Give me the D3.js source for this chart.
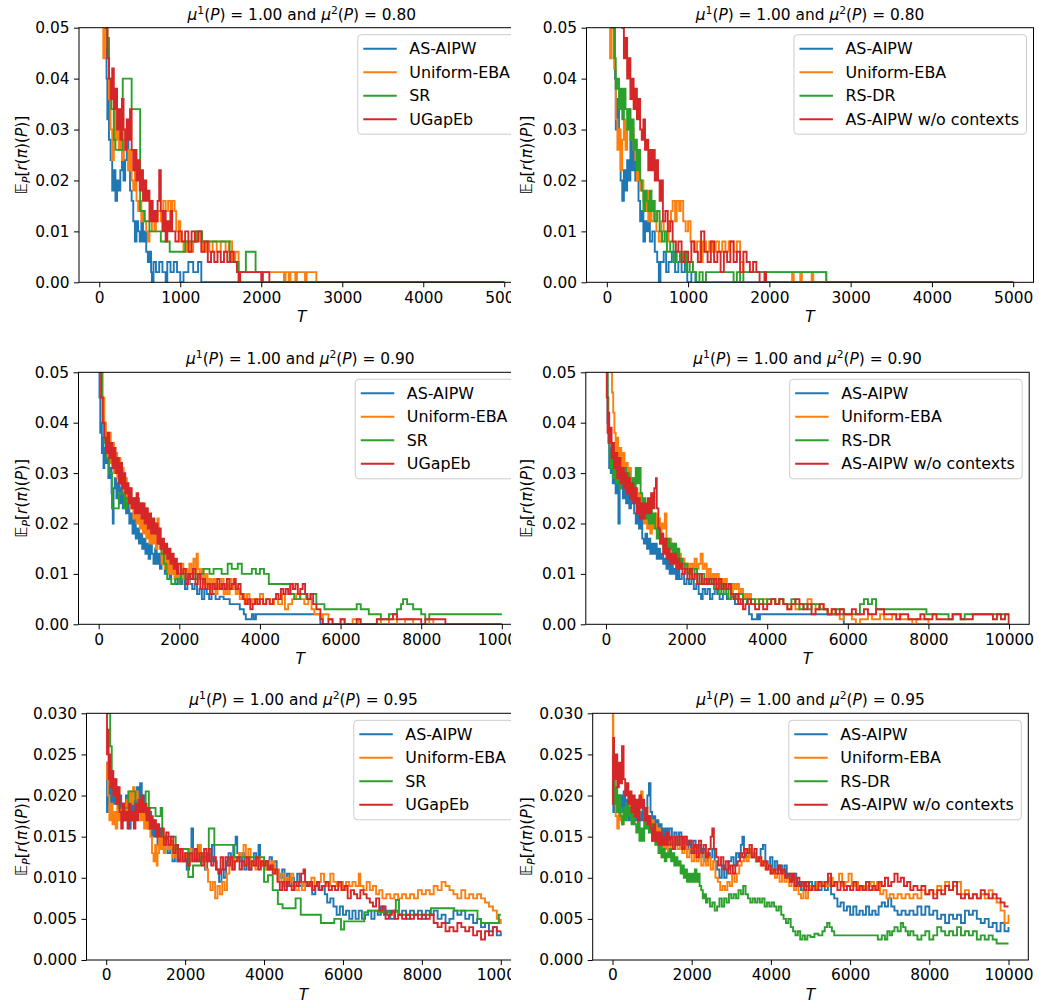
<!DOCTYPE html>
<html>
<head>
<meta charset="utf-8">
<script src="https://cdn.jsdelivr.net/npm/d3@7"></script>
<style>
  body { margin: 0; background: #fff; }
  svg { display: block; }
  text { font-family: "DejaVu Sans", sans-serif; fill: #000; }
</style>
</head>
<body>
<div id="chart"></div>
<script>
// ---- labels / ticks ----
const colors = ["#1f77b4", "#ff7f0e", "#2ca02c", "#d62728"];
const labelsLeft = ["AS-AIPW", "Uniform-EBA", "SR", "UGapEb"];
const labelsRight = ["AS-AIPW", "Uniform-EBA", "RS-DR", "AS-AIPW w/o contexts"];
const mu2Values = ["0.80", "0.90", "0.95"];
const xTicks5k = [0, 1000, 2000, 3000, 4000, 5000];
const xTicks10k = [0, 2000, 4000, 6000, 8000, 10000];
const yTicks05 = [0, 0.01, 0.02, 0.03, 0.04, 0.05];
const yTicks03 = [0, 0.005, 0.01, 0.015, 0.02, 0.025, 0.03];

// ---- row 1 (mu2 = 0.80), T up to 5000, [T, value] step points ----
const r1L_asAipw = [[0,.06],[90,.04],[100,.032],[110,.036],[120,.028],[140,.024],[160,.018],[180,.022],[200,.016],[220,.02],[240,.018],[260,.022],[280,.026],[300,.02],[320,.024],[340,.028],[360,.022],[380,.018],[400,.016],[420,.012],[440,.008],[460,.012],[480,.01],[500,.008],[520,.012],[540,.008],[560,.01],[580,.006],[600,.004],[620,.006],[640,.002],[650,0],[670,.004],[700,.002],[740,.004],[780,.002],[820,0],[840,.004],[880,.002],[920,.004],[960,.002],[1000,0],[1040,.002],[1100,.004],[1160,.002],[1220,.004],[1260,0],[5000,0]];
const r1L_uniform = [[0,.06],[50,.044],[70,.05],[100,.046],[120,.036],[140,.03],[160,.024],[180,.034],[200,.028],[220,.032],[240,.026],[260,.03],[280,.024],[300,.028],[320,.03],[340,.026],[360,.022],[380,.026],[400,.02],[420,.018],[440,.022],[460,.016],[480,.014],[500,.016],[520,.012],[540,.014],[560,.012],[580,.01],[600,.008],[620,.01],[650,.012],[680,.01],[700,.012],[720,.014],[760,.012],[790,.016],[820,.014],[850,.016],[880,.012],[900,.016],[930,.014],[950,.01],[980,.012],[1000,.008],[1040,.006],[1080,.008],[1120,.006],[1160,.008],[1200,.01],[1240,.008],[1280,.006],[1320,.008],[1360,.006],[1400,.008],[1450,.006],[1500,.008],[1560,.006],[1600,.008],[1640,.004],[1680,.006],[1720,.002],[2280,0],[2300,.002],[2340,0],[2360,.002],[2420,0],[2440,.002],[2540,0],[2560,.002],[2680,0],[5000,0]];
const r1L_sr = [[0,.06],[100,.048],[120,.04],[150,.034],[180,.028],[200,.026],[290,.04],[400,.034],[505,.014],[560,.012],[620,.01],[760,.008],[870,.006],[1060,.008],[1190,.01],[1270,.008],[1610,.004],[1720,.002],[1810,.006],[1930,.002],[2010,0],[5000,0]];
const r1L_ugapeb = [[0,.06],[80,.05],[100,.044],[120,.04],[140,.036],[160,.042],[180,.034],[200,.038],[220,.03],[240,.034],[260,.028],[280,.036],[300,.03],[320,.026],[340,.032],[360,.028],[380,.034],[400,.026],[420,.022],[440,.026],[460,.02],[480,.024],[500,.018],[520,.022],[540,.016],[560,.02],[580,.016],[600,.018],[620,.012],[640,.016],[660,.012],[680,.014],[700,.012],[720,.016],[740,.022],[760,.014],[780,.01],[800,.014],[820,.008],[840,.012],[860,.01],[880,.014],[900,.01],[940,.008],[980,.01],[1020,.008],[1060,.01],[1100,.006],[1140,.01],[1180,.008],[1220,.01],[1260,.006],[1300,.008],[1340,.004],[1380,.006],[1420,.004],[1460,.006],[1500,.004],[1540,.006],[1580,.004],[1620,.006],[1660,.004],[1700,.002],[1720,0],[1740,.002],[2000,0],[2020,.002],[2100,0],[5000,0]];

const r1R_asAipw = [[0,.06],[80,.05],[100,.04],[110,.03],[130,.036],[150,.028],[170,.02],[190,.016],[210,.022],[230,.018],[250,.024],[270,.02],[290,.028],[310,.022],[330,.026],[350,.02],[370,.024],[390,.016],[410,.012],[430,.014],[450,.008],[470,.012],[490,.01],[510,.012],[530,.008],[560,.01],[590,.006],[620,.004],[640,0],[660,.004],[700,.006],[730,.002],[760,.004],[800,.006],[840,.002],[880,.004],[920,.002],[960,.004],[990,0],[1040,.002],[1090,0],[5000,0]];
const r1R_uniform = [[0,.06],[40,.044],[60,.05],[90,.042],[110,.032],[130,.026],[150,.03],[170,.022],[190,.028],[210,.032],[230,.026],[250,.03],[270,.034],[290,.028],[310,.03],[330,.026],[350,.024],[370,.02],[390,.022],[410,.018],[430,.02],[450,.016],[470,.014],[490,.018],[510,.012],[530,.016],[550,.012],[580,.014],[610,.01],[640,.008],[670,.012],[700,.01],[730,.008],[760,.012],[790,.014],[810,.016],[840,.012],[860,.016],[890,.014],[910,.016],[940,.012],[970,.01],[1000,.012],[1030,.008],[1070,.006],[1110,.008],[1150,.004],[1180,.008],[1220,.006],[1260,.008],[1300,.006],[1340,.008],[1380,.006],[1420,.008],[1460,.006],[1500,.008],[1560,.006],[1600,.008],[1640,.004],[1680,.002],[2280,0],[2300,.002],[2380,0],[2400,.002],[2520,0],[2540,.002],[2700,0],[5000,0]];
const r1R_rsdr = [[0,.06],[70,.05],[90,.044],[110,.038],[130,.04],[150,.034],[170,.038],[190,.032],[210,.038],[230,.034],[250,.03],[270,.034],[290,.028],[310,.032],[330,.026],[350,.028],[370,.022],[390,.026],[410,.02],[430,.018],[450,.014],[470,.018],[490,.016],[510,.014],[530,.018],[550,.014],[570,.016],[590,.012],[620,.014],[650,.01],[680,.008],[710,.01],[740,.006],[780,.008],[820,.004],[860,.006],[900,.004],[940,.006],[980,.002],[1020,.004],[1060,.002],[1100,0],[1140,.002],[1180,0],[1220,.002],[1560,0],[1600,.002],[1640,0],[1680,.002],[2700,0],[5000,0]];
const r1R_noCtx = [[0,.06],[190,.05],[210,.044],[230,.048],[250,.04],[270,.044],[290,.036],[310,.04],[330,.034],[350,.038],[370,.032],[390,.036],[410,.03],[430,.028],[450,.032],[470,.026],[490,.028],[510,.022],[530,.026],[550,.022],[570,.026],[590,.02],[610,.024],[630,.02],[650,.016],[670,.02],[690,.012],[720,.014],[750,.01],[780,.012],[810,.008],[850,.006],[880,.008],[920,.004],[960,.006],[1000,.004],[1040,.008],[1080,.006],[1120,.004],[1160,.01],[1200,.006],[1240,.004],[1280,.008],[1320,.004],[1360,.006],[1400,.002],[1440,.006],[1480,.004],[1520,.008],[1560,.004],[1600,.006],[1640,.002],[1680,.006],[1720,.004],[1760,.002],[1800,.004],[1840,.002],[1880,0],[1940,.002],[1960,0],[5000,0]];

// ---- row 2 (mu2 = 0.90), T up to 10000 ----
const r2L_asAipw = [[0,.06],[20,.045],[40,.038],[60,.04],[80,.034],[100,.037],[120,.031],[140,.035],[160,.032],[200,.033],[240,.029],[280,.031],[320,.026],[350,.02],[370,.027],[400,.029],[440,.025],[480,.028],[520,.024],[560,.027],[600,.023],[640,.026],[680,.022],[720,.024],[760,.02],[800,.022],[840,.018],[880,.021],[920,.017],[960,.019],[1000,.016],[1040,.018],[1080,.015],[1120,.017],[1160,.014],[1200,.016],[1240,.013],[1280,.016],[1320,.014],[1360,.012],[1400,.015],[1440,.012],[1480,.014],[1520,.011],[1560,.013],[1600,.012],[1640,.01],[1680,.013],[1720,.011],[1760,.009],[1800,.011],[1840,.01],[1900,.008],[1960,.01],[2020,.008],[2080,.009],[2140,.007],[2200,.009],[2260,.008],[2320,.007],[2380,.008],[2440,.006],[2500,.007],[2560,.005],[2620,.007],[2680,.006],[2740,.005],[2800,.006],[2900,.005],[3000,.0055],[3100,.005],[3250,.004],[3500,.003],[3600,.002],[3650,.001],[3800,.002],[3850,.001],[3900,.002],[5500,0],[10000,0]];
const r2L_uniform = [[0,.06],[60,.05],[100,.045],[140,.04],[180,.036],[220,.034],[260,.038],[300,.032],[340,.036],[380,.03],[420,.034],[460,.029],[500,.033],[540,.028],[580,.031],[620,.026],[660,.029],[700,.025],[740,.027],[780,.023],[820,.025],[860,.021],[900,.024],[940,.02],[980,.022],[1020,.019],[1060,.021],[1100,.018],[1140,.02],[1180,.017],[1220,.02],[1260,.016],[1300,.019],[1340,.016],[1380,.018],[1420,.015],[1460,.021],[1490,.017],[1520,.015],[1560,.012],[1600,.015],[1640,.011],[1680,.014],[1720,.01],[1760,.013],[1800,.01],[1840,.012],[1880,.009],[1920,.011],[1960,.009],[2000,.01],[2050,.012],[2100,.009],[2150,.011],[2200,.008],[2250,.012],[2300,.01],[2350,.013],[2400,.01],[2430,.014],[2460,.011],[2500,.009],[2550,.011],[2600,.008],[2650,.01],[2700,.007],[2750,.009],[2800,.007],[2850,.009],[2900,.006],[2950,.008],[3000,.007],[3050,.009],[3100,.006],[3150,.008],[3200,.006],[3250,.009],[3300,.007],[3350,.008],[3400,.006],[3450,.007],[3500,.005],[3560,.006],[3620,.004],[3680,.006],[3740,.004],[3800,.005],[3860,.004],[3920,.005],[4000,.006],[4080,.004],[4150,.005],[4250,.004],[4350,.005],[4450,.004],[4550,.006],[4620,.003],[4700,.004],[4800,.005],[4900,.006],[5000,.005],[5100,.004],[5200,.005],[5280,.003],[5350,.002],[5500,.001],[5560,.002],[5700,.001],[5800,0],[6000,.001],[6100,0],[6300,.001],[6450,0],[6900,.001],[7000,0],[7200,.001],[7400,0],[7600,.001],[7800,0],[8200,.001],[8300,0],[10000,0]];
const r2L_sr = [[0,.06],[60,.05],[80,.045],[100,.04],[140,.036],[200,.033],[260,.03],[330,.023],[500,.026],[640,.023],[700,.025],[800,.024],[900,.025],[1000,.024],[1100,.023],[1200,.021],[1300,.02],[1400,.018],[1480,.016],[1560,.014],[1620,.012],[1680,.01],[1700,.009],[1800,.008],[1900,.009],[2000,.008],[2050,.01],[2150,.009],[2250,.01],[2350,.009],[2450,.01],[2600,.011],[2750,.01],[2850,.011],[3050,.01],[3200,.012],[3300,.011],[3450,.012],[3550,.01],[3800,.011],[3900,.01],[4000,.011],[4100,.01],[4220,.008],[4750,.006],[4850,.005],[5000,.006],[5150,.005],[5250,.006],[5400,.004],[5600,.003],[6400,.004],[6500,.003],[6700,.002],[7000,.001],[7200,.002],[7400,.003],[7500,.004],[7550,.005],[7650,.004],[7800,.003],[8000,.002],[8100,.001],[8200,.002],[10000,.002]];
const r2L_ugapeb = [[0,.06],[30,.05],[60,.045],[100,.04],[140,.037],[180,.034],[220,.038],[260,.033],[300,.036],[340,.031],[380,.035],[420,.03],[460,.033],[500,.028],[540,.032],[580,.027],[620,.03],[660,.026],[700,.028],[740,.024],[780,.027],[820,.023],[860,.025],[900,.022],[940,.026],[980,.022],[1020,.024],[1060,.021],[1100,.024],[1140,.02],[1180,.023],[1220,.019],[1260,.022],[1300,.018],[1340,.021],[1380,.018],[1420,.02],[1460,.016],[1500,.019],[1540,.015],[1580,.017],[1620,.014],[1660,.016],[1700,.013],[1740,.015],[1780,.012],[1820,.014],[1860,.011],[1900,.013],[1940,.01],[1980,.012],[2040,.01],[2100,.011],[2160,.008],[2220,.01],[2280,.009],[2340,.011],[2400,.008],[2460,.01],[2520,.007],[2580,.009],[2640,.007],[2700,.008],[2760,.006],[2820,.008],[2880,.007],[2940,.009],[3000,.007],[3060,.008],[3120,.007],[3180,.009],[3240,.007],[3300,.008],[3360,.009],[3400,.007],[3460,.008],[3520,.006],[3580,.005],[3640,.004],[3700,.005],[3760,.003],[3820,.004],[3880,.005],[3940,.004],[4000,.005],[4080,.004],[4160,.005],[4240,.004],[4320,.005],[4400,.006],[4460,.005],[4520,.007],[4580,.006],[4640,.007],[4700,.006],[4760,.008],[4820,.007],[4880,.008],[4940,.006],[5000,.007],[5060,.008],[5120,.006],[5180,.005],[5260,.006],[5320,.004],[5400,.003],[5500,.001],[5560,0],[5700,.001],[5800,0],[6000,.001],[6100,0],[6400,.001],[6500,0],[6900,.001],[7300,.002],[7400,.001],[8000,0],[8100,.001],[8600,0],[10000,0]];

const r2R_asAipw = [[0,.06],[20,.05],[40,.04],[60,.036],[80,.031],[100,.035],[120,.03],[140,.033],[170,.028],[200,.031],[240,.026],[280,.029],[310,.02],[340,.027],[380,.029],[420,.025],[460,.028],[500,.024],[540,.027],[580,.023],[620,.026],[660,.024],[700,.022],[740,.02],[780,.023],[820,.019],[860,.021],[900,.017],[940,.016],[980,.018],[1020,.015],[1060,.017],[1100,.014],[1140,.016],[1180,.014],[1220,.016],[1260,.013],[1300,.015],[1340,.013],[1380,.014],[1420,.012],[1460,.013],[1500,.011],[1540,.013],[1580,.01],[1620,.012],[1660,.01],[1700,.011],[1740,.009],[1780,.011],[1820,.009],[1880,.01],[1940,.008],[2000,.009],[2060,.008],[2120,.009],[2180,.007],[2240,.008],[2300,.006],[2360,.005],[2400,.007],[2460,.006],[2520,.007],[2580,.005],[2640,.006],[2700,.007],[2760,.006],[2820,.005],[2900,.006],[3000,.005],[3100,.0055],[3200,.004],[3400,.005],[3500,.004],[3550,.002],[3620,.001],[3750,.002],[3780,.001],[3820,.002],[5900,0],[10000,0]];
const r2R_uniform = [[0,.06],[120,.05],[150,.046],[180,.042],[210,.038],[240,.034],[270,.037],[300,.032],[340,.035],[380,.031],[420,.034],[460,.029],[500,.032],[540,.028],[580,.031],[620,.027],[660,.029],[700,.025],[740,.027],[780,.023],[820,.026],[860,.022],[900,.024],[940,.02],[980,.023],[1020,.019],[1060,.021],[1100,.018],[1140,.021],[1180,.019],[1220,.022],[1260,.019],[1300,.021],[1340,.018],[1380,.02],[1420,.019],[1460,.022],[1500,.017],[1540,.015],[1580,.017],[1620,.014],[1660,.016],[1700,.014],[1740,.015],[1780,.013],[1820,.014],[1860,.012],[1900,.013],[1950,.011],[2000,.012],[2050,.01],[2100,.012],[2150,.011],[2200,.013],[2250,.011],[2300,.012],[2350,.014],[2400,.011],[2450,.012],[2500,.009],[2550,.011],[2600,.009],[2650,.01],[2700,.008],[2750,.01],[2800,.008],[2850,.009],[2900,.007],[2950,.009],[3000,.007],[3050,.008],[3100,.006],[3150,.008],[3200,.007],[3250,.008],[3300,.006],[3350,.007],[3400,.005],[3450,.006],[3500,.005],[3550,.006],[3600,.004],[3700,.005],[3800,.004],[3900,.005],[4000,.004],[4100,.005],[4200,.004],[4300,.005],[4400,.004],[4500,.003],[4600,.004],[4700,.003],[4800,.004],[5000,.005],[5100,.004],[5200,.003],[5300,.004],[5400,.003],[5500,.002],[5600,.003],[5700,.002],[5800,.001],[5900,.002],[6100,.001],[6200,0],[6300,.001],[6500,.002],[6600,.001],[6800,.002],[6900,.001],[7100,.002],[7300,.001],[7600,0],[7700,.001],[8000,0],[10000,0]];
const r2R_rsdr = [[0,.06],[40,.045],[60,.038],[90,.034],[120,.031],[150,.034],[180,.029],[220,.032],[260,.028],[300,.031],[340,.027],[380,.03],[420,.028],[460,.031],[500,.027],[540,.03],[580,.028],[620,.026],[660,.029],[700,.027],[740,.031],[780,.028],[820,.031],[860,.026],[900,.023],[940,.025],[980,.021],[1020,.024],[1060,.02],[1100,.023],[1140,.02],[1180,.022],[1220,.019],[1260,.017],[1300,.019],[1340,.016],[1380,.018],[1420,.015],[1460,.017],[1500,.015],[1540,.017],[1580,.015],[1620,.016],[1660,.014],[1700,.016],[1740,.013],[1780,.015],[1820,.012],[1860,.013],[1900,.011],[1960,.012],[2020,.01],[2080,.011],[2140,.009],[2200,.011],[2260,.01],[2320,.008],[2380,.01],[2440,.008],[2500,.009],[2560,.008],[2620,.009],[2680,.007],[2740,.008],[2800,.006],[2860,.008],[2920,.006],[2980,.007],[3040,.005],[3100,.006],[3200,.005],[3300,.006],[3400,.005],[3500,.004],[3600,.005],[3700,.004],[3800,.005],[3900,.004],[4000,.005],[4200,.004],[4300,.005],[4400,.004],[4600,.005],[4700,.004],[4800,.003],[4900,.004],[5000,.003],[5100,.004],[5300,.003],[5500,.002],[5700,.003],[5900,.002],[6300,.004],[6400,.005],[6500,.004],[6600,.005],[6700,.003],[7950,.002],[8500,.001],[8600,.002],[8800,.001],[8900,.002],[10000,.002]];
const r2R_noCtx = [[0,.06],[20,.045],[40,.038],[60,.042],[80,.036],[110,.039],[140,.033],[170,.036],[200,.031],[240,.034],[280,.029],[320,.033],[360,.028],[400,.031],[440,.027],[480,.03],[520,.026],[560,.029],[600,.025],[640,.028],[680,.024],[720,.027],[760,.022],[800,.025],[840,.021],[880,.024],[920,.021],[960,.024],[1000,.022],[1040,.025],[1080,.022],[1120,.026],[1160,.023],[1200,.027],[1240,.029],[1260,.023],[1300,.019],[1340,.016],[1380,.018],[1420,.014],[1460,.017],[1500,.013],[1540,.015],[1580,.012],[1620,.014],[1660,.012],[1700,.014],[1740,.011],[1780,.013],[1820,.011],[1860,.012],[1900,.01],[1960,.011],[2020,.009],[2080,.011],[2140,.009],[2200,.01],[2260,.008],[2320,.01],[2380,.008],[2440,.009],[2500,.008],[2560,.009],[2620,.008],[2680,.009],[2740,.007],[2800,.009],[2860,.007],[2920,.008],[2980,.007],[3040,.008],[3100,.006],[3160,.005],[3220,.006],[3280,.004],[3340,.005],[3400,.003],[3460,.004],[3520,.005],[3600,.004],[3700,.003],[3800,.004],[3900,.003],[4000,.004],[4100,.005],[4200,.004],[4300,.005],[4400,.004],[4500,.003],[4600,.004],[4700,.005],[4800,.004],[4900,.003],[5000,.004],[5100,.002],[5200,.003],[5300,.004],[5400,.003],[5500,.002],[5600,.003],[5700,.002],[5800,.003],[5900,.002],[6100,.003],[6200,.002],[6400,.003],[6500,.002],[6700,.003],[6900,.002],[7200,.001],[7300,.002],[7500,.001],[7800,.002],[7900,.001],[8100,.002],[8200,.001],[8600,.002],[8800,.001],[9100,.002],[9600,.001],[9700,.002],[9800,.001],[9900,.002],[9990,0],[10000,0]];

// ---- row 3 (mu2 = 0.95), T up to 10000 ----
const r3L_asAipw = [[0,.024],[20,.018],[40,.022],[60,.019],[100,.021],[140,.019],[180,.022],[220,.019],[260,.021],[300,.018],[340,.02],[380,.017],[420,.019],[460,.017],[500,.02],[540,.018],[580,.016],[620,.019],[660,.017],[700,.02],[740,.018],[780,.021],[820,.019],[860,.0215],[900,.019],[940,.02],[980,.017],[1020,.018],[1060,.016],[1100,.018],[1140,.015],[1180,.017],[1220,.015],[1260,.016],[1300,.014],[1340,.016],[1380,.014],[1420,.015],[1460,.013],[1500,.015],[1560,.013],[1620,.014],[1680,.012],[1740,.014],[1800,.012],[1860,.013],[1920,.012],[1980,.0125],[2040,.011],[2100,.013],[2160,.016],[2200,.013],[2260,.012],[2320,.014],[2380,.012],[2440,.013],[2500,.011],[2560,.013],[2620,.012],[2680,.014],[2740,.012],[2800,.011],[2860,.0095],[2920,.011],[2980,.01],[3040,.012],[3100,.013],[3160,.012],[3220,.014],[3280,.015],[3320,.013],[3380,.012],[3440,.013],[3500,.011],[3560,.0125],[3620,.011],[3680,.012],[3740,.013],[3800,.0115],[3860,.014],[3900,.012],[3960,.0115],[4020,.012],[4080,.011],[4140,.0125],[4200,.011],[4260,.012],[4320,.0105],[4400,.01],[4460,.011],[4520,.009],[4580,.0105],[4640,.009],[4700,.01],[4760,.0095],[4840,.0105],[4900,.009],[4980,.0095],[5060,.009],[5140,.0095],[5220,.008],[5300,.009],[5380,.0085],[5460,.009],[5540,.008],[5600,.007],[5680,.0075],[5760,.0065],[5840,.0055],[5920,.0065],[6000,.0055],[6080,.006],[6160,.005],[6240,.006],[6320,.005],[6400,.006],[6480,.005],[6560,.0055],[6640,.006],[6720,.005],[6800,.006],[6880,.0055],[6960,.0065],[7040,.0055],[7120,.006],[7200,.005],[7300,.006],[7400,.0055],[7500,.006],[7600,.005],[7700,.006],[7800,.0055],[7900,.006],[8000,.005],[8100,.006],[8200,.0055],[8300,.006],[8400,.005],[8500,.0055],[8600,.0045],[8700,.005],[8800,.006],[8900,.0055],[9000,.006],[9100,.005],[9200,.0055],[9300,.0045],[9400,.005],[9500,.004],[9600,.0045],[9700,.0035],[9800,.004],[9900,.003],[10000,.0035]];
const r3L_uniform = [[0,.024],[20,.022],[40,.02],[80,.017],[120,.019],[160,.0165],[200,.018],[240,.016],[280,.019],[320,.017],[360,.0185],[400,.017],[440,.019],[480,.0175],[520,.0195],[560,.018],[600,.0205],[640,.019],[680,.021],[720,.0195],[760,.0205],[800,.018],[840,.0195],[880,.017],[920,.018],[960,.016],[1000,.0175],[1040,.016],[1080,.017],[1120,.015],[1160,.013],[1200,.012],[1240,.014],[1280,.0115],[1300,.013],[1340,.015],[1380,.0135],[1420,.015],[1460,.013],[1500,.0145],[1560,.0135],[1620,.0145],[1680,.0125],[1740,.014],[1800,.0125],[1860,.0135],[1920,.012],[1980,.013],[2040,.0125],[2100,.0135],[2160,.012],[2220,.0135],[2280,.0125],[2340,.014],[2400,.012],[2460,.013],[2520,.011],[2580,.0095],[2640,.0085],[2700,.0095],[2760,.0075],[2820,.009],[2880,.008],[2940,.0095],[3000,.0085],[3060,.0105],[3120,.012],[3180,.011],[3240,.0125],[3300,.012],[3360,.013],[3420,.0125],[3480,.014],[3540,.0125],[3600,.0135],[3660,.0115],[3720,.012],[3780,.011],[3840,.0125],[3900,.0115],[3960,.012],[4020,.011],[4080,.012],[4140,.0115],[4200,.012],[4260,.0105],[4320,.011],[4380,.0095],[4440,.0105],[4500,.009],[4560,.01],[4620,.0095],[4680,.0105],[4740,.009],[4800,.0085],[4880,.0095],[4960,.0085],[5040,.0095],[5120,.009],[5200,.01],[5280,.009],[5360,.0095],[5440,.0105],[5520,.0095],[5600,.009],[5680,.0105],[5760,.0095],[5840,.009],[5920,.0095],[6000,.0085],[6080,.0095],[6160,.009],[6240,.0095],[6320,.009],[6400,.0105],[6440,.009],[6520,.0085],[6600,.0095],[6680,.0085],[6760,.009],[6840,.008],[6920,.0085],[7000,.0075],[7100,.008],[7200,.0075],[7300,.008],[7400,.0075],[7500,.008],[7600,.0075],[7700,.008],[7800,.0075],[7900,.0085],[8000,.008],[8100,.0085],[8200,.008],[8300,.009],[8400,.0085],[8500,.0095],[8600,.009],[8700,.0085],[8800,.008],[8900,.0075],[9000,.0085],[9100,.0075],[9200,.008],[9300,.0075],[9400,.008],[9500,.0075],[9600,.007],[9700,.0065],[9800,.006],[9900,.005],[9960,.0045],[10000,.005]];
const r3L_sr = [[0,.031],[60,.03],[100,.026],[140,.022],[200,.02],[260,.019],[320,.0185],[560,.0205],[740,.019],[1000,.0205],[1080,.0185],[1250,.0175],[1380,.0185],[1420,.015],[1760,.0135],[2080,.0101],[2200,.0115],[2400,.0125],[2600,.016],[2740,.014],[3250,.0125],[4000,.0095],[4100,.0103],[4220,.0085],[4350,.0068],[4470,.0063],[4800,.0075],[4930,.0055],[5440,.0045],[5780,.005],[5950,.0037],[6030,.0047],[6540,.0058],[6630,.006],[6920,.0058],[7340,.0073],[7420,.0055],[8230,.0063],[8820,.006],[9410,.005],[9500,.0045],[9950,.0055],[10000,.0055]];
const r3L_ugapeb = [[0,.03],[20,.025],[40,.028],[60,.022],[80,.025],[100,.021],[140,.023],[180,.02],[220,.022],[260,.019],[300,.021],[340,.018],[380,.016],[420,.019],[460,.017],[500,.018],[540,.016],[580,.019],[620,.017],[660,.018],[700,.016],[740,.019],[780,.017],[820,.0195],[860,.018],[900,.02],[940,.018],[980,.019],[1020,.017],[1060,.0185],[1100,.016],[1140,.0175],[1180,.016],[1220,.017],[1260,.015],[1300,.0165],[1340,.015],[1400,.016],[1460,.014],[1520,.0155],[1580,.014],[1640,.015],[1700,.013],[1760,.014],[1820,.012],[1880,.0135],[1940,.012],[2000,.013],[2060,.0115],[2120,.013],[2180,.012],[2240,.0135],[2300,.012],[2360,.013],[2420,.0115],[2480,.0135],[2540,.012],[2600,.0135],[2660,.0115],[2720,.0125],[2780,.011],[2840,.0105],[2900,.0125],[2960,.011],[3020,.0125],[3080,.0115],[3140,.0125],[3200,.011],[3260,.012],[3320,.0125],[3380,.011],[3440,.012],[3500,.0115],[3560,.0125],[3620,.011],[3680,.012],[3740,.0115],[3800,.0125],[3860,.011],[3920,.012],[3980,.0115],[4040,.012],[4100,.011],[4160,.0115],[4220,.0105],[4280,.011],[4340,.0095],[4400,.0085],[4460,.0095],[4520,.0085],[4580,.0095],[4640,.009],[4700,.0085],[4760,.0095],[4820,.009],[4880,.0095],[4940,.0105],[5000,.011],[5040,.0095],[5100,.009],[5160,.0095],[5220,.0085],[5280,.009],[5340,.0095],[5400,.0085],[5480,.009],[5560,.0095],[5640,.0085],[5720,.009],[5800,.0085],[5880,.0095],[5960,.0085],[6040,.009],[6120,.0075],[6200,.0085],[6280,.008],[6360,.0075],[6440,.0085],[6520,.008],[6600,.0075],[6680,.007],[6760,.0065],[6840,.0075],[6920,.006],[7000,.0065],[7080,.005],[7160,.0055],[7240,.006],[7320,.005],[7400,.0055],[7500,.005],[7600,.0055],[7700,.005],[7800,.0055],[7900,.005],[8000,.0055],[8100,.005],[8200,.0055],[8300,.0045],[8400,.004],[8500,.0045],[8600,.0035],[8700,.004],[8800,.0035],[8900,.0045],[9000,.004],[9100,.0035],[9200,.004],[9300,.003],[9400,.0035],[9500,.0025],[9600,.0035],[9700,.003],[9800,.004],[9900,.0035],[10000,.0035]];

const r3R_asAipw = [[0,.024],[20,.018],[40,.021],[80,.018],[120,.02],[160,.0175],[200,.02],[240,.018],[280,.0205],[320,.018],[360,.0195],[400,.017],[440,.019],[480,.0175],[520,.0195],[560,.017],[600,.0185],[640,.016],[680,.018],[720,.017],[760,.019],[800,.0175],[840,.0185],[880,.02],[920,.0215],[960,.018],[1000,.0165],[1040,.0175],[1080,.0155],[1120,.017],[1160,.015],[1200,.0165],[1240,.0145],[1280,.016],[1320,.0145],[1360,.016],[1400,.0145],[1440,.016],[1500,.014],[1560,.0155],[1620,.014],[1680,.0155],[1740,.0135],[1800,.015],[1860,.0135],[1920,.0145],[1980,.013],[2040,.0145],[2100,.013],[2160,.014],[2220,.0125],[2280,.0135],[2340,.012],[2400,.013],[2460,.0125],[2520,.0135],[2580,.012],[2640,.011],[2700,.01],[2760,.0115],[2820,.01],[2880,.011],[2940,.012],[3000,.0125],[3060,.0115],[3120,.013],[3180,.0125],[3240,.014],[3280,.015],[3320,.013],[3380,.0125],[3440,.0135],[3500,.0125],[3560,.013],[3620,.012],[3680,.0125],[3740,.0135],[3800,.014],[3860,.012],[3920,.0115],[3980,.0125],[4040,.011],[4100,.012],[4160,.011],[4220,.0115],[4280,.0105],[4340,.0115],[4400,.01],[4460,.0105],[4520,.0095],[4580,.0105],[4640,.009],[4700,.0095],[4760,.0085],[4820,.0095],[4880,.009],[4960,.0095],[5040,.009],[5120,.0095],[5200,.0085],[5280,.009],[5360,.0085],[5440,.0095],[5520,.008],[5600,.0075],[5680,.0065],[5760,.007],[5840,.006],[5920,.0065],[6000,.0055],[6080,.0065],[6160,.0055],[6240,.006],[6320,.0055],[6400,.0065],[6480,.0055],[6560,.006],[6640,.0055],[6720,.0065],[6800,.007],[6880,.0065],[6960,.0075],[7040,.0065],[7120,.006],[7200,.0055],[7300,.006],[7400,.0055],[7500,.006],[7600,.0055],[7700,.0065],[7800,.0055],[7900,.0065],[8000,.0055],[8100,.006],[8200,.005],[8300,.0055],[8400,.0045],[8500,.0055],[8600,.005],[8700,.0055],[8800,.0045],[8900,.006],[9000,.0055],[9100,.006],[9200,.005],[9300,.0045],[9400,.005],[9500,.004],[9600,.0045],[9700,.0035],[9800,.0045],[9900,.0035],[10000,.004]];
const r3R_uniform = [[0,.024],[10,.03],[20,.022],[40,.02],[80,.0175],[120,.016],[160,.0185],[200,.017],[240,.0165],[280,.018],[320,.0175],[360,.019],[400,.0185],[440,.02],[480,.0185],[520,.0195],[560,.018],[600,.019],[640,.0175],[680,.0195],[720,.0205],[760,.019],[800,.0175],[840,.0185],[880,.0165],[920,.0175],[960,.016],[1000,.017],[1040,.0155],[1080,.0165],[1120,.015],[1160,.016],[1200,.0145],[1240,.0125],[1280,.014],[1320,.0135],[1360,.0145],[1400,.013],[1460,.0145],[1520,.0135],[1580,.015],[1640,.0135],[1700,.0145],[1760,.013],[1820,.014],[1880,.0125],[1940,.0135],[2000,.012],[2060,.0135],[2120,.012],[2180,.013],[2240,.0115],[2300,.013],[2360,.0115],[2420,.0125],[2480,.011],[2540,.012],[2600,.01],[2660,.0095],[2720,.0085],[2780,.009],[2840,.0085],[2900,.0095],[2960,.009],[3020,.0105],[3080,.0095],[3140,.0105],[3200,.0115],[3260,.012],[3320,.0125],[3380,.012],[3440,.0135],[3500,.0125],[3560,.013],[3620,.012],[3680,.0125],[3740,.0115],[3800,.012],[3860,.011],[3920,.0115],[3980,.0105],[4040,.011],[4100,.01],[4160,.0105],[4220,.0095],[4280,.0105],[4340,.0095],[4400,.01],[4460,.009],[4520,.0095],[4580,.0085],[4640,.009],[4700,.008],[4760,.0075],[4820,.0085],[4880,.0075],[4940,.0085],[5000,.009],[5080,.0085],[5160,.0095],[5240,.009],[5320,.0095],[5400,.009],[5480,.01],[5560,.009],[5640,.0095],[5720,.0105],[5800,.009],[5880,.0095],[5960,.0105],[6040,.009],[6120,.0095],[6200,.0085],[6280,.009],[6360,.0085],[6440,.009],[6520,.0095],[6600,.0085],[6680,.0095],[6760,.008],[6840,.0085],[6920,.0075],[7000,.008],[7100,.0075],[7200,.008],[7300,.0075],[7400,.008],[7500,.0075],[7600,.008],[7700,.0075],[7800,.0085],[7900,.008],[8000,.0085],[8100,.008],[8200,.009],[8300,.0085],[8400,.0095],[8500,.0085],[8600,.009],[8700,.0095],[8800,.008],[8900,.0085],[9000,.0075],[9100,.008],[9200,.0075],[9300,.008],[9400,.0075],[9500,.0085],[9600,.0075],[9700,.007],[9800,.006],[9900,.0045],[10000,.0055]];
const r3R_rsdr = [[0,.02],[20,.026],[40,.022],[60,.019],[80,.021],[120,.018],[160,.02],[200,.0175],[240,.0165],[280,.0185],[320,.017],[360,.019],[400,.0175],[440,.0185],[480,.0165],[520,.018],[560,.0165],[600,.0155],[640,.017],[680,.0145],[720,.016],[760,.0145],[800,.017],[840,.016],[880,.0175],[920,.0155],[960,.0165],[1000,.0145],[1040,.0155],[1080,.014],[1120,.0155],[1160,.013],[1200,.0145],[1240,.0125],[1280,.0135],[1320,.012],[1360,.013],[1400,.0125],[1440,.0135],[1480,.012],[1520,.013],[1560,.0115],[1600,.0125],[1640,.0115],[1680,.012],[1720,.0105],[1760,.0115],[1800,.01],[1840,.011],[1880,.0095],[1920,.0105],[1960,.0095],[2000,.0105],[2040,.0095],[2080,.011],[2120,.0095],[2160,.0105],[2200,.009],[2240,.0085],[2280,.0075],[2320,.008],[2360,.007],[2400,.0075],[2460,.0065],[2520,.007],[2580,.006],[2640,.0065],[2700,.0075],[2760,.0065],[2820,.0075],[2880,.007],[2940,.008],[3000,.0075],[3060,.008],[3120,.0075],[3180,.0085],[3240,.008],[3300,.009],[3360,.008],[3420,.0075],[3480,.007],[3540,.0075],[3600,.007],[3660,.0075],[3720,.007],[3780,.0075],[3840,.0065],[3900,.007],[3960,.0065],[4020,.007],[4080,.0065],[4140,.006],[4200,.0065],[4260,.0055],[4320,.005],[4380,.0045],[4440,.005],[4500,.004],[4560,.0035],[4620,.003],[4680,.0035],[4740,.0025],[4800,.003],[4860,.0025],[4920,.003],[5000,.0028],[5100,.0032],[5200,.003],[5300,.0035],[5360,.004],[5420,.0045],[5480,.004],[5540,.0035],[5600,.003],[6700,.0025],[6800,.003],[6880,.0025],[6940,.0035],[7000,.003],[7060,.0035],[7120,.004],[7200,.0035],[7280,.0045],[7340,.004],[7400,.0035],[7460,.003],[7520,.0035],[7600,.003],[7700,.0025],[7800,.003],[7900,.0035],[8000,.0025],[8100,.003],[8200,.004],[8300,.0035],[8400,.003],[8500,.0035],[8600,.003],[8700,.004],[8800,.003],[8900,.0035],[9000,.003],[9100,.0035],[9200,.0025],[9300,.003],[9400,.0025],[9500,.003],[9600,.0025],[9700,.002],[10000,.002]];
const r3R_noCtx = [[0,.025],[10,.019],[20,.027],[40,.022],[80,.025],[120,.021],[160,.024],[200,.0215],[240,.026],[280,.022],[320,.02],[360,.0215],[400,.019],[440,.0205],[480,.018],[520,.02],[560,.0175],[600,.0195],[640,.017],[680,.02],[720,.0185],[760,.0195],[800,.017],[840,.0185],[880,.0165],[920,.0175],[960,.016],[1000,.0145],[1040,.0165],[1080,.0145],[1120,.0155],[1160,.014],[1200,.0155],[1240,.014],[1280,.015],[1320,.014],[1360,.0155],[1400,.014],[1460,.015],[1520,.0135],[1580,.015],[1640,.014],[1700,.015],[1760,.0135],[1820,.015],[1880,.014],[1940,.0145],[2000,.013],[2060,.014],[2120,.0125],[2180,.0145],[2240,.013],[2300,.014],[2360,.0125],[2420,.0135],[2480,.015],[2520,.016],[2560,.0135],[2620,.0125],[2680,.0115],[2740,.0125],[2800,.011],[2860,.012],[2920,.0105],[2980,.0115],[3040,.0105],[3100,.0115],[3160,.012],[3220,.013],[3280,.0125],[3340,.0135],[3400,.013],[3460,.014],[3520,.0125],[3580,.0135],[3640,.012],[3700,.0125],[3760,.0115],[3820,.012],[3880,.011],[3940,.0115],[4000,.0105],[4060,.011],[4120,.0105],[4180,.0115],[4240,.0105],[4300,.011],[4360,.01],[4420,.0105],[4480,.0095],[4540,.0105],[4600,.009],[4660,.01],[4720,.009],[4780,.0095],[4840,.0085],[4900,.0095],[4960,.0085],[5040,.009],[5120,.0085],[5200,.0095],[5280,.009],[5360,.0095],[5440,.0105],[5520,.009],[5600,.0095],[5680,.0085],[5760,.0095],[5840,.0085],[5920,.009],[6000,.0085],[6080,.0095],[6160,.0085],[6240,.009],[6320,.0085],[6400,.0095],[6480,.0085],[6560,.009],[6640,.0085],[6720,.0095],[6800,.009],[6880,.01],[6960,.009],[7040,.0095],[7120,.0105],[7200,.0095],[7280,.01],[7360,.009],[7440,.0095],[7520,.0085],[7600,.009],[7700,.0085],[7800,.009],[7900,.008],[8000,.0085],[8100,.0075],[8200,.0085],[8300,.008],[8400,.009],[8500,.0085],[8600,.0095],[8700,.008],[8800,.0075],[8900,.008],[9000,.0075],[9100,.008],[9200,.0075],[9300,.0085],[9400,.008],[9500,.0075],[9600,.008],[9700,.0075],[9800,.007],[9900,.0065],[10000,.0065]];

// ---- panel layout (pixel boxes of each axes) ----
const panels = [
  { l: 79, r: 524.5, t: 27.7, b: 282.3, tMax: 5000, yMax: 0.05, xTicks: xTicks5k, yTicks: yTicks05, fmt: ".2f", mu2: mu2Values[0], labels: labelsLeft, left: true, series: [r1L_asAipw, r1L_uniform, r1L_sr, r1L_ugapeb] },
  { l: 586.5, r: 1033.5, t: 27.7, b: 282.3, tMax: 5000, yMax: 0.05, xTicks: xTicks5k, yTicks: yTicks05, fmt: ".2f", mu2: mu2Values[0], labels: labelsRight, left: false, series: [r1R_asAipw, r1R_uniform, r1R_rsdr, r1R_noCtx] },
  { l: 78.5, r: 522, t: 372.3, b: 624.3, tMax: 10000, yMax: 0.05, xTicks: xTicks10k, yTicks: yTicks05, fmt: ".2f", mu2: mu2Values[1], labels: labelsLeft, left: true, series: [r2L_asAipw, r2L_uniform, r2L_sr, r2L_ugapeb] },
  { l: 585.8, r: 1029.2, t: 372.3, b: 624.3, tMax: 10000, yMax: 0.05, xTicks: xTicks10k, yTicks: yTicks05, fmt: ".2f", mu2: mu2Values[1], labels: labelsRight, left: false, series: [r2R_asAipw, r2R_uniform, r2R_rsdr, r2R_noCtx] },
  { l: 86.5, r: 520.5, t: 713.3, b: 960, tMax: 10000, yMax: 0.03, xTicks: xTicks10k, yTicks: yTicks03, fmt: ".3f", mu2: mu2Values[2], labels: labelsLeft, left: true, series: [r3L_asAipw, r3L_uniform, r3L_sr, r3L_ugapeb] },
  { l: 592.7, r: 1028.3, t: 713.3, b: 960, tMax: 10000, yMax: 0.03, xTicks: xTicks10k, yTicks: yTicks03, fmt: ".3f", mu2: mu2Values[2], labels: labelsRight, left: false, series: [r3R_asAipw, r3R_uniform, r3R_rsdr, r3R_noCtx] }
];

const svg = d3.select("#chart").append("svg")
  .attr("width", 1039).attr("height", 1006)
  .attr("viewBox", [0, 0, 1039, 1006]);
const defs = svg.append("defs");
// the left-hand figures are cut off where the right-hand figures begin
defs.append("clipPath").attr("id", "leftcol")
  .append("rect").attr("x", 0).attr("y", 0).attr("width", 511).attr("height", 1006);

const tickFont = 15.4, legendFont = 15.9;

panels.forEach((p, i) => {
  const g = svg.append("g").attr("clip-path", p.left ? "url(#leftcol)" : null);

  const x = d3.scaleLinear().domain([-0.05 * p.tMax, 1.05 * p.tMax]).range([p.l, p.r]);
  const y = d3.scaleLinear().domain([0, p.yMax]).range([p.b, p.t]);

  defs.append("clipPath").attr("id", "plot" + i)
    .append("rect").attr("x", p.l).attr("y", p.t).attr("width", p.r - p.l).attr("height", p.b - p.t);

  const line = d3.line().x(d => x(d[0])).y(d => y(d[1])).curve(d3.curveStepAfter);

  g.append("g").attr("clip-path", `url(#plot${i})`)
    .selectAll("path")
    .data(p.series)
    .join("path")
    .attr("d", d => line(d))
    .attr("fill", "none")
    .attr("stroke", (d, k) => colors[k])
    .attr("stroke-width", 1.9)
    .attr("stroke-linejoin", "miter");

  // axes
  const xa = g.append("g")
    .attr("transform", `translate(0,${p.b})`)
    .call(d3.axisBottom(x).tickValues(p.xTicks).tickFormat(d3.format("d")).tickSize(5).tickPadding(4.5))
    .call(a => a.select(".domain").remove());
  const ya = g.append("g")
    .attr("transform", `translate(${p.l},0)`)
    .call(d3.axisLeft(y).tickValues(p.yTicks).tickFormat(d3.format(p.fmt)).tickSize(5).tickPadding(4.5))
    .call(a => a.select(".domain").remove());
  [xa, ya].forEach(a => {
    a.selectAll("text").attr("font-size", tickFont).attr("font-family", "DejaVu Sans");
    a.selectAll("line").attr("stroke", "#000").attr("stroke-width", 1);
  });

  g.append("rect")
    .attr("x", p.l).attr("y", p.t)
    .attr("width", p.r - p.l).attr("height", p.b - p.t)
    .attr("fill", "none").attr("stroke", "#000").attr("stroke-width", 1);

  // title
  const cx = (p.l + p.r) / 2;
  const title = g.append("text")
    .attr("x", cx).attr("y", p.t - 8)
    .attr("text-anchor", "middle").attr("font-size", tickFont);
  const mu = k => {
    title.append("tspan").attr("font-style", "italic").text("μ");
    title.append("tspan").attr("font-size", 10.8).attr("dy", -6).text(k);
    title.append("tspan").attr("dy", 6).text("(");
    title.append("tspan").attr("font-style", "italic").text("P");
  };
  mu("1");
  title.append("tspan").text(") = 1.00 and ");
  mu("2");
  title.append("tspan").text(") = " + p.mu2);

  // x label
  g.append("text")
    .attr("x", cx).attr("y", p.b + 39.5)
    .attr("text-anchor", "middle").attr("font-size", tickFont)
    .attr("font-style", "italic").text("T");

  // y label
  const ylx = p.left ? 27 : 532;
  const yl = g.append("text")
    .attr("transform", `translate(${ylx},${(p.t + p.b) / 2}) rotate(-90)`)
    .attr("text-anchor", "middle").attr("font-size", tickFont);
  yl.append("tspan").text("𝔼");
  yl.append("tspan").attr("font-size", 10.8).attr("font-style", "italic").attr("dy", 3).text("P");
  yl.append("tspan").attr("dy", -3).text("[");
  yl.append("tspan").attr("font-style", "italic").text("r");
  yl.append("tspan").text("(");
  yl.append("tspan").attr("font-style", "italic").text("π");
  yl.append("tspan").text(")(");
  yl.append("tspan").attr("font-style", "italic").text("P");
  yl.append("tspan").text(")]");

  // legend
  const lg = g.append("g");
  const box = lg.append("rect");
  const texts = p.labels.map(lab =>
    lg.append("text").attr("font-size", legendFont).attr("y", 0).text(lab));
  const maxW = d3.max(texts, t => t.node().getComputedTextLength());
  const bw = maxW + 59, bh = 99.5;
  const bx = p.r - 7 - bw, by = p.t + 7;
  box.attr("x", bx).attr("y", by).attr("width", bw).attr("height", bh)
    .attr("rx", 3.5).attr("fill", "#fff").attr("fill-opacity", 0.8)
    .attr("stroke", "#cccccc").attr("stroke-width", 1);
  p.labels.forEach((lab, k) => {
    const cy = by + 14 + k * 23.5;
    lg.append("line")
      .attr("x1", bx + 5.5).attr("x2", bx + 39)
      .attr("y1", cy).attr("y2", cy)
      .attr("stroke", colors[k]).attr("stroke-width", 1.9);
    texts[k].attr("x", bx + 51.5).attr("y", cy + 5.6);
  });
});
</script>
</body>
</html>
